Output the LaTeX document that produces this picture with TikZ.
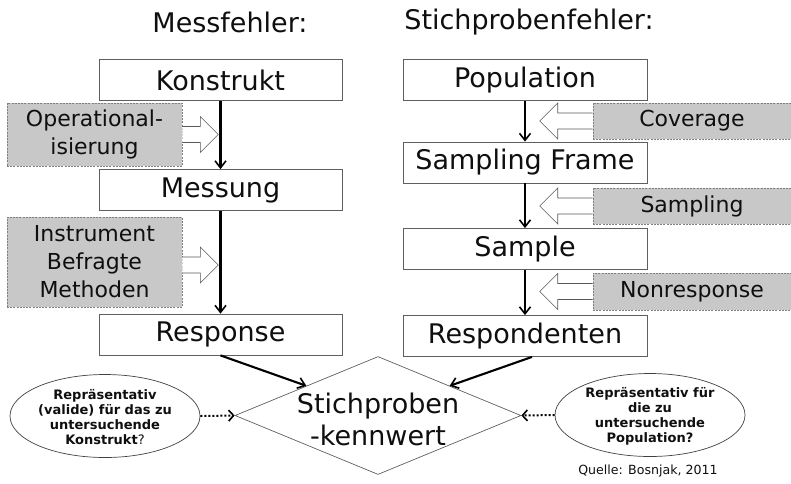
\documentclass[tikz,border=0pt]{standalone}
\usepackage{fontspec}
\setmainfont{DejaVu Sans}
\usetikzlibrary{shapes.geometric,arrows.meta,calc}
\definecolor{boxfill}{RGB}{200,200,200}
\definecolor{edge}{RGB}{95,95,95}
\definecolor{txt}{RGB}{15,15,15}
\begin{document}
\begin{tikzpicture}[x=1pt,y=-1pt,
  title/.style={font=\fontsize{27}{32}\selectfont, text=txt, inner sep=0pt},
  mainbox/.style={draw=edge, line width=0.8pt, fill=white, minimum height=41pt, inner sep=0pt, text=txt, font=\fontsize{27}{32}\selectfont},
  errbox/.style={draw=gray, dashed, dash pattern=on 2pt off 1.2pt, line width=0.6pt, fill=boxfill, inner sep=0pt, align=center, text=txt, font=\fontsize{22}{28}\selectfont},
  flow/.style={line width=2.1pt, -{Straight Barb[length=7pt,width=11pt,line width=1.6pt]}},
  dotflow/.style={line width=2pt, dash pattern=on 2pt off 2pt, -{Straight Barb[length=5pt,width=11pt,line width=1.6pt]}},
  hollow/.style={draw=gray!70!black, fill=white, line width=0.6pt, line join=miter},
  questionshape/.style={ellipse, draw=black!75, line width=0.7pt, minimum width=190pt, minimum height=83pt, inner sep=0pt},
  questiontext/.style={inner sep=0pt, align=center, text=txt, font=\fontsize{13}{15}\selectfont\bfseries}
]
\useasboundingbox (0,0) rectangle (791,483);

% titles
\node[title] (t1) at (230,22) {Messfehler:};
\node[title] (t2) at (529,22) {Stichprobenfehler:};

% left column
\node[mainbox, minimum width=243pt] (kon) at (220.5,80) {Konstrukt};
\node[mainbox, minimum width=243pt] (mes) at (220.5,190) {Messung};
\node[mainbox, minimum width=243pt] (res) at (220.5,334.5) {Response};

\node[errbox, minimum width=175pt, minimum height=63pt] (op) at (94.5,134.5) {Operational-\\isierung};
\node[errbox, minimum width=175pt, minimum height=90pt] (ins) at (94.5,262) {Instrument\\Befragte\\Methoden};

\draw[hollow] ($(op.east)+(0,-8)$) -- ++(18,0) -- ++(0,-10) -- ++(18,18) -- ++(-18,18) -- ++(0,-10) -- ++(-18,0);
\draw[hollow] ($(ins.east)+(0,-5)$) -- ++(18,0) -- ++(0,-10) -- ++(18,18) -- ++(-18,18) -- ++(0,-10) -- ++(-18,0);

\draw[flow] (kon.south) -- (mes.north);
\draw[flow] (mes.south) -- (res.north);

% right column
\node[mainbox, minimum width=244pt] (pop) at (525,80) {Population};
\node[mainbox, minimum width=244pt] (sf) at (525,162.5) {Sampling Frame};
\node[mainbox, minimum width=244pt] (sam) at (525,249) {Sample};
\node[mainbox, minimum width=244pt] (rsp) at (525,336) {Respondenten};

\node[errbox, minimum width=198pt, minimum height=36pt] (cov) at (692,121) {Coverage};
\node[errbox, minimum width=198pt, minimum height=36pt] (smp) at (692,206) {Sampling};
\node[errbox, minimum width=198pt, minimum height=37pt] (nr) at (692,291.5) {Nonresponse};

\draw[flow] (pop.south) -- (sf.north);
\draw[flow] (sf.south) -- (sam.north);
\draw[flow] (sam.south) -- (rsp.north);

\draw[hollow] ($(cov.west)+(0,-8)$) -- ++(-35,0) -- ++(0,-10) -- ++(-18,18) -- ++(18,18) -- ++(0,-10) -- ++(35,0);
\draw[hollow] ($(smp.west)+(0,-8)$) -- ++(-35,0) -- ++(0,-10) -- ++(-18,18) -- ++(18,18) -- ++(0,-10) -- ++(35,0);
\draw[hollow] ($(nr.west)+(0,-8)$) -- ++(-35,0) -- ++(0,-10) -- ++(-18,18) -- ++(18,18) -- ++(0,-10) -- ++(35,0);

% diamond
\node[diamond, draw=edge, line width=0.7pt, aspect=2.42, minimum width=286pt, minimum height=118pt, inner sep=0pt] (dia) at (378,415.5) {};
\node[align=center, inner sep=0pt, text=txt, font=\fontsize{27}{32}\selectfont] (diat) at (378,419) {Stichproben\\-kennwert};

\draw[flow] (res.south) -- (dia.north west);
\draw[flow] ($(rsp.south)+(7,0)$) -- (dia.north east);

% questions
\node[questionshape] (lq) at (105,416) {};
\node[questiontext] (lqt) at (105,417) {Repräsentativ\\(valide) für das zu\\untersuchende\\Konstrukt{\mdseries ?}};
\node[questionshape] (rq) at (650,415) {};
\node[questiontext] (rqt) at (650,416) {Repräsentativ für\\die zu\\untersuchende\\Population?};

\draw[dotflow] (lq.east) -- (dia.west);
\draw[dotflow] (rq.west) -- (dia.east);

\node[inner sep=0pt, text=txt, font=\fontsize{12.6}{15}\selectfont] (src) at (648,471) {Quelle: Bosnjak, 2011};
\end{tikzpicture}
\end{document}
